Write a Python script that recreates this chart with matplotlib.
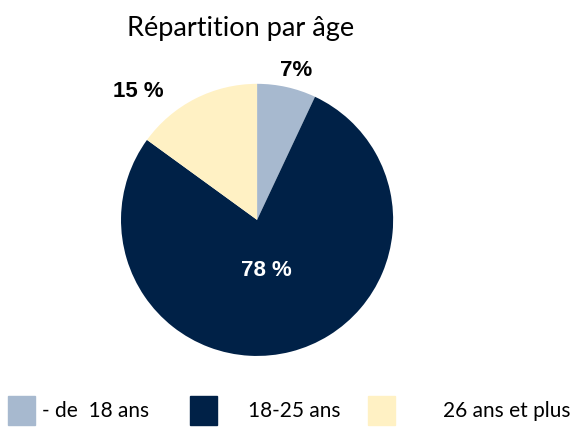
import matplotlib.pyplot as plt
from matplotlib.patches import Rectangle

categories = ['- de  18 ans', '18-25 ans', '26 ans et plus']
values = [7, 78, 15]
labels = ['7%', '78 %', '15 %']
colors = ['#A7B9CF', '#002147', '#FFF1C4']
label_colors = ['black', 'white', 'black']

fig = plt.figure(figsize=(5.79, 4.32), dpi=100)
ax = fig.add_axes([0.209, 0.176, 0.470, 0.630])

wedges, texts = ax.pie(values, colors=colors, startangle=90, counterclock=False,
                       labels=labels, labeldistance=None)
ax.set_xlim(-1, 1)
ax.set_ylim(-1, 1)
ax.set_aspect('equal')

# étiquettes des pourcentages
positions = [(0.29, 1.10), (0.07, -0.37), (-0.87, 0.94)]
for (x, y), lab, c in zip(positions, labels, label_colors):
    ax.text(x, y, lab, ha='center', va='center', fontsize=16, fontweight='bold',
            color=c, family='Liberation Sans', clip_on=False)

fig.text(0.415, 0.933, 'Répartition par âge', ha='center', va='center',
         fontsize=19.5, family='Lato')

# légende
sq_x = [8, 190, 368]
txt_x = [42, 248, 443]
for sx, tx, cat, col in zip(sq_x, txt_x, categories, colors):
    fig.add_artist(Rectangle((sx / 579, 1 - 425 / 432), 27 / 579, 29 / 432,
                             transform=fig.transFigure, color=col))
    fig.text(tx / 579, 1 - 411 / 432, cat, ha='left', va='center',
             fontsize=15, family='Lato')

plt.savefig('out.png')
plt.close()
